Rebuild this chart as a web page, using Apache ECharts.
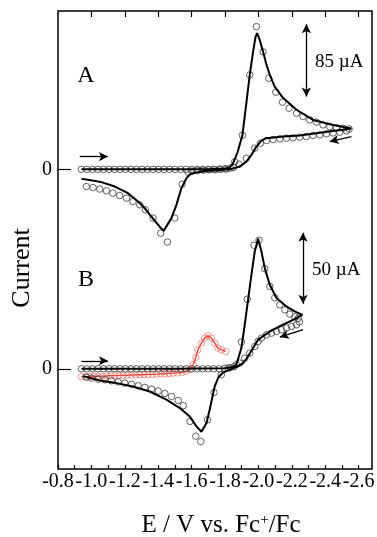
<!DOCTYPE html>
<html><head><meta charset="utf-8">
<script src="https://cdn.jsdelivr.net/npm/echarts@6/dist/echarts.min.js"></script>
<style>html,body{margin:0;padding:0;background:#fff}#c{width:377px;height:537px}</style>
</head><body><div id="c"></div>
<script>
// Potential is stored as -E (V vs Fc+/Fc), labels add the minus sign.
var xTickValues = [0.8,1.0,1.2,1.4,1.6,1.8,2.0,2.2,2.4,2.6];
var xMinorTicks = [0.8,0.9,1.0,1.1,1.2,1.3,1.4,1.5,1.6,1.7,1.8,1.9,2.0,2.1,2.2,2.3,2.4,2.5,2.6];
var xTopTicks = [1.0,1.2,1.4,1.6,1.8,2.0,2.2,2.4,2.6];
var yZeroTicks = [0];

// Panel A (current in µA)
var simA = [[0.94,0],[1.2,0],[1.5,0],[1.7,0.2],[1.8,1],[1.828,2],[1.848,7],[1.875,20],[1.904,40],[1.926,75],[1.948,111],[1.968,138],[1.982,155],[1.992,160],[2.008,152],[2.028,138],[2.048,123],[2.068,111],[2.098,97],[2.147,84],[2.228,70],[2.327,58],[2.447,52],[2.557,48],
  [2.447,45],[2.347,42.5],[2.247,39.7],[2.148,38.5],[2.048,36.6],[2.018,33.8],[1.988,26.8],[1.958,17],[1.928,9],[1.888,3.3],[1.84,0.5],[1.75,-1],[1.68,-2],[1.62,-4],[1.59,-6],[1.569,-10.3],[1.539,-22],[1.509,-41.7],[1.479,-57.3],[1.449,-67],[1.433,-72],[1.415,-69],[1.399,-65],[1.359,-55.4],[1.319,-45.5],[1.279,-37.8],[1.219,-28],[1.14,-20.2],[1.06,-15],[0.98,-12.3],[0.94,-11.2]];
var expA = [[0.94,0],[0.973,0],[1.006,0],[1.039,0],[1.072,0],[1.105,0],[1.138,0],[1.171,0],[1.204,0],[1.237,0],[1.27,0],[1.303,0],[1.336,0],[1.369,0],[1.402,0],[1.435,0],[1.468,0],[1.501,0],[1.534,0],[1.567,0],[1.6,0],[1.633,0],[1.666,0],[1.699,0],[1.732,0],[1.765,0.3],[1.798,0.6],[1.831,1.5],
  [1.858,9],[1.904,40],[1.948,111],[1.988,167.6],[2.028,138],[2.062,107],[2.104,90.6],[2.144,78.9],[2.183,71.8],[2.228,66],[2.267,62],[2.307,58],[2.347,55.4],[2.387,52.2],[2.427,50.2],[2.467,49],[2.507,48.4],[2.543,47.5],
  [2.527,45.2],[2.487,43.6],[2.447,42.8],[2.407,41.7],[2.367,40.5],[2.327,39.7],[2.287,38.5],[2.247,37.8],[2.207,37],[2.168,36.6],[2.128,35.8],[2.088,35],[2.048,33.8],[2.012,30.7],[1.978,24.9],[1.928,13],[1.885,6],[1.85,2],[1.81,0.5],[1.775,0],[1.74,-0.5],[1.705,-0.5],[1.67,-1],[1.635,-1.5],[1.6,-2],[1.578,-3.3],[1.543,-17.4],[1.499,-57.3],[1.455,-85.4],[1.415,-74.9],[1.369,-57.3],[1.323,-47.5],[1.289,-41.7],[1.249,-37.8],[1.21,-33.8],[1.169,-30.8],[1.129,-27.9],[1.09,-25.2],[1.05,-23.2],[1.01,-21.4],[0.97,-20.2]];

// Panel B (current in µA)
var simB = [[0.94,0],[1.5,0],[1.8,0.3],[1.85,1.5],[1.868,3],[1.898,14.6],[1.918,31],[1.938,48.6],[1.958,66.2],[1.978,82.6],[1.998,91.5],[2.018,82.6],[2.038,70.9],[2.068,59.2],[2.108,49.8],[2.168,43.9],[2.217,40.4],[2.263,38],
  [2.207,34.5],[2.147,31],[2.088,27.5],[2.038,23.9],[1.998,20.4],[1.968,14.6],[1.938,8.7],[1.908,4],[1.868,1.2],[1.83,-0.5],[1.79,-2.5],[1.76,-6],[1.738,-12.5],[1.708,-28.9],[1.689,-38.2],[1.659,-44.4],[1.629,-40.6],[1.589,-33.6],[1.529,-27.7],[1.449,-21.8],[1.349,-16],[1.249,-12.5],[1.15,-10.1],[1.05,-8.2],[0.95,-5.2]];
var expB = [[0.94,0],[0.973,0],[1.006,0],[1.039,0],[1.072,0],[1.105,0],[1.138,0],[1.171,0],[1.204,0],[1.237,0],[1.27,0],[1.303,0],[1.336,0],[1.369,0],[1.402,0],[1.435,0],[1.468,0],[1.501,0],[1.534,0],[1.567,0],[1.6,0],[1.633,0],[1.666,0],[1.699,0],[1.732,0],[1.765,0],[1.798,0.3],[1.831,0.8],
  [1.868,3],[1.898,18.8],[1.933,49],[1.973,87],[2.003,90.5],[2.038,70.5],[2.068,58],[2.098,50],[2.128,45],[2.158,41.5],[2.188,38.5],[2.218,36.5],[2.238,35.5],[2.245,33],
  [2.228,31],[2.198,29.8],[2.168,28.7],[2.138,27.5],[2.108,26.3],[2.078,25.1],[2.048,23.9],[2.018,21.6],[1.998,19.2],[1.978,15.7],[1.948,11],[1.918,7.5],[1.888,4],[1.855,1.5],[1.818,0.5],[1.778,-4.2],[1.734,-16.7],[1.695,-35.9],[1.655,-51.2],[1.625,-47.5],[1.59,-37.1],[1.55,-26],[1.52,-22.3],[1.48,-19.5],[1.44,-17.4],[1.40,-15.7],[1.36,-14.3],[1.32,-13.1],[1.28,-12],[1.24,-11],[1.20,-10.1],[1.16,-9.2],[1.12,-8.5],[1.08,-7.7],[1.04,-7.3],[1.00,-6.6],[0.97,-5.9]];
var redB = [[0.94,-5.6],[0.965,-5.5],[0.99,-5.5],[1.015,-5.3],[1.04,-5.2],[1.065,-5.2],[1.09,-5.0],[1.115,-4.9],[1.14,-4.9],[1.165,-4.7],[1.19,-4.6],[1.215,-4.6],[1.24,-4.4],[1.265,-4.3],[1.29,-4.2],[1.315,-4.1],[1.34,-4.0],[1.365,-3.9],[1.39,-3.8],[1.415,-3.6],[1.44,-3.5],[1.465,-3.3],[1.49,-3.1],[1.515,-2.9],[1.54,-2.5],[1.565,-1.8],[1.59,-0.5],[1.61,3],[1.625,8],[1.638,13.4],[1.659,18.1],[1.678,21.6],[1.698,23.2],[1.719,21.6],[1.738,18.1],[1.758,14.6],[1.778,13.4],[1.804,12.2]];

// annotation arrows in data units
var arrowsA = [[[0.93,15],[1.099,15]],[[2.557,38.5],[2.427,32.6]]];
var scaleBarA = [[2.287,85.5],[2.287,170.5]];
var arrowsB = [[[0.94,5.6],[1.099,5.6]],[[2.267,27.5],[2.128,22.3]]];
var scaleBarB = [[2.267,45.8],[2.267,95.8]];

var FONT = 'Liberation Serif';
var chart = echarts.init(document.getElementById('c'));
function mk(list, sym){
  return list.map(function(p){ return [{coord:p[0], symbol:'none'},{coord:p[1], symbol:sym}]; });
}
var circleStyle = {color:'rgba(0,0,0,0)', borderColor:'#3a3a3a', borderWidth:1};
var arrowLine = {color:'#000', width:1.3, type:'solid'};
var tickStyle = {color:'#000', width:1.2};
chart.setOption({
  animation:false,
  grid:{left:58, right:5, top:11, bottom:68, containLabel:false, outerBoundsMode:'none',
    show:true, borderColor:'#000', borderWidth:1.5, backgroundColor:'#fff'},
  xAxis:[{type:'value', min:0.8, max:2.68, position:'bottom',
      axisLine:{show:false, onZero:false}, splitLine:{show:false},
      axisTick:{inside:true, length:4, customValues:xMinorTicks, lineStyle:tickStyle},
      axisLabel:{customValues:xTickValues, margin:3, color:'#000', fontFamily:FONT, fontSize:20,
        formatter:function(v){return '-' + v.toFixed(1);}},
      name:'E / V vs. Fc{sup|+}/Fc', nameLocation:'middle', nameGap:44,
      nameTextStyle:{color:'#000', fontFamily:FONT, fontSize:25, padding:[0,0,0,12],
        rich:{sup:{fontFamily:FONT, fontSize:15, color:'#000', verticalAlign:'top', padding:[0,0,10,0]}}}},
    {type:'value', min:0.8, max:2.68, position:'top',
      axisLine:{show:false, onZero:false}, splitLine:{show:false},
      axisTick:{inside:true, length:6, customValues:xTopTicks, lineStyle:tickStyle},
      axisLabel:{show:false}}],
  yAxis:[{type:'value', min:-352, max:186, position:'left',
      axisLine:{show:false, onZero:false}, splitLine:{show:false},
      axisTick:{inside:true, length:13, customValues:yZeroTicks, lineStyle:tickStyle},
      axisLabel:{customValues:yZeroTicks, margin:6, color:'#000', fontFamily:FONT, fontSize:20}},
    {type:'value', min:-70.6, max:252, position:'left', offset:0,
      axisLine:{show:false, onZero:false}, splitLine:{show:false},
      axisTick:{inside:true, length:13, customValues:yZeroTicks, lineStyle:tickStyle},
      axisLabel:{customValues:yZeroTicks, margin:6, color:'#000', fontFamily:FONT, fontSize:20}}],
  series:[
    {type:'line', data:simA, xAxisIndex:0, yAxisIndex:0, showSymbol:false, lineStyle:{color:'#000', width:2}, z:3,
      markLine:{silent:true, symbolSize:[7,9], label:{show:false}, lineStyle:arrowLine,
        data: mk(arrowsA,'arrow').concat([[{coord:scaleBarA[0], symbol:'arrow'},{coord:scaleBarA[1], symbol:'arrow'}]])}},
    {type:'scatter', data:expA, xAxisIndex:0, yAxisIndex:0, symbol:'circle', symbolSize:6.5, itemStyle:circleStyle, z:2},
    {type:'line', data:redB, xAxisIndex:0, yAxisIndex:1, symbol:'circle', symbolSize:6.5, showAllSymbol:true,
      lineStyle:{color:'#e8392e', width:1.3}, itemStyle:{color:'rgba(0,0,0,0)', borderColor:'rgba(240,100,90,0.65)', borderWidth:1}, z:1},
    {type:'line', data:simB, xAxisIndex:0, yAxisIndex:1, showSymbol:false, lineStyle:{color:'#000', width:2}, z:3,
      markLine:{silent:true, symbolSize:[7,9], label:{show:false}, lineStyle:arrowLine,
        data: mk(arrowsB,'arrow').concat([[{coord:scaleBarB[0], symbol:'arrow'},{coord:scaleBarB[1], symbol:'arrow'}]])}},
    {type:'scatter', data:expB, xAxisIndex:0, yAxisIndex:1, symbol:'circle', symbolSize:6.5, itemStyle:circleStyle, z:2}
  ],
  graphic:[
    {type:'text', x:86, y:76, style:{text:'A', font:'24px "Liberation Serif"', fill:'#000', textAlign:'center', textVerticalAlign:'middle'}},
    {type:'text', x:86, y:280, style:{text:'B', font:'24px "Liberation Serif"', fill:'#000', textAlign:'center', textVerticalAlign:'middle'}},
    {type:'text', x:315, y:62, style:{text:'85 µA', font:'19px "Liberation Serif"', fill:'#000', textAlign:'left', textVerticalAlign:'middle'}},
    {type:'text', x:312, y:270, style:{text:'50 µA', font:'19px "Liberation Serif"', fill:'#000', textAlign:'left', textVerticalAlign:'middle'}},
    {type:'text', x:22, y:268, rotation:Math.PI/2, style:{text:'Current', font:'26px "Liberation Serif"', fill:'#000', textAlign:'center', textVerticalAlign:'middle'}}
  ]
});
</script></body></html>
